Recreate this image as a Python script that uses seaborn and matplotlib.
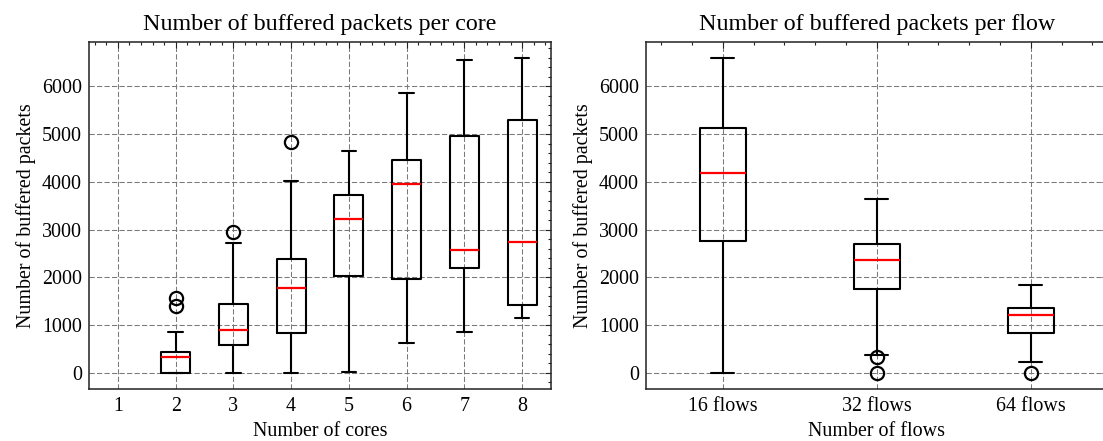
import numpy as np
import pandas as pd
import matplotlib
matplotlib.use("Agg")
import matplotlib.pyplot as plt
from matplotlib.ticker import AutoMinorLocator
import seaborn as sns

# ---------------- data ----------------
cores = [1, 2, 3, 4, 5, 6, 7, 8]
core_whislo = [None, 0, 0, 0, 20, 630, 845, 1140]
core_q1 = [None, 0, 580, 837, 2024, 1975, 2185, 1417]
core_median = [None, 330, 905, 1766, 3217, 3949, 2575, 2735]
core_q3 = [None, 440, 1438, 2380, 3726, 4466, 4968, 5289]
core_whishi = [None, 845, 2710, 4020, 4640, 5868, 6551, 6600]
core_outliers = [[], [1400, 1560], [2950], [4835], [], [], [], []]

flows = ["16 flows", "32 flows", "64 flows"]
flow_whislo = [0, 370, 217]
flow_q1 = [2771, 1758, 837]
flow_median = [4194, 2365, 1208]
flow_q3 = [5128, 2708, 1361]
flow_whishi = [6600, 3650, 1842]
flow_outliers = [[], [0, 320], [0]]


def samples(lo, q1, med, q3, hi, outl):
    """17 values whose quartiles/whiskers/fliers reproduce the read statistics."""
    if med is None:
        return []
    low_out = sorted(v for v in outl if v < q1)
    high_out = sorted(v for v in outl if v > q3)
    lower = low_out + [lo]
    lower = lower + [q1] * (8 - len(lower))
    upper = [hi] + high_out
    upper = [q3] * (8 - len(upper)) + upper
    return lower + [med] + upper


rows = []
for i, c in enumerate(cores):
    for v in samples(core_whislo[i], core_q1[i], core_median[i], core_q3[i],
                     core_whishi[i], core_outliers[i]):
        rows.append((str(c), v))
df_cores = pd.DataFrame(rows, columns=["cores", "packets"])

rows = []
for i, f in enumerate(flows):
    for v in samples(flow_whislo[i], flow_q1[i], flow_median[i], flow_q3[i],
                     flow_whishi[i], flow_outliers[i]):
        rows.append((f, v))
df_flows = pd.DataFrame(rows, columns=["flows", "packets"])

# ---------------- style ----------------
sns.set_theme(style="white")
plt.rcParams.update({
    "font.family": ["Liberation Serif", "DejaVu Serif"],
    "font.size": 14.4,
    "axes.titlesize": 17.3,
    "axes.labelsize": 14.4,
    "xtick.labelsize": 14.4,
    "ytick.labelsize": 14.4,
    "axes.edgecolor": "#222222",
    "axes.linewidth": 1.1,
    "text.color": "black",
    "axes.labelcolor": "black",
    "xtick.color": "#222222",
    "ytick.color": "#222222",
    "xtick.labelcolor": "black",
    "ytick.labelcolor": "black",
    "xtick.direction": "in",
    "ytick.direction": "in",
    "xtick.top": True,
    "ytick.right": True,
    "xtick.major.size": 4.5,
    "ytick.major.size": 4.5,
    "xtick.minor.size": 2.4,
    "ytick.minor.size": 2.4,
    "xtick.major.width": 0.8,
    "ytick.major.width": 0.8,
    "xtick.minor.width": 0.8,
    "ytick.minor.width": 0.8,
    "xtick.major.pad": 6,
    "ytick.major.pad": 5,
})

fig = plt.figure(figsize=(11.03, 4.41), dpi=100)
ax1 = fig.add_axes([89 / 1103, 52 / 441, 462 / 1103, 347 / 441])
ax2 = fig.add_axes([645.7 / 1103, 52 / 441, 462 / 1103, 347 / 441])

common = dict(
    fill=False, color="black", linewidth=1.5, whis=1.5,
    flierprops=dict(marker="o", markerfacecolor="none", markeredgecolor="black",
                    markersize=9.5, markeredgewidth=1.6),
    medianprops=dict(color="red", linewidth=1.6),
    boxprops=dict(color="black"),
    whiskerprops=dict(color="black"),
    capprops=dict(color="black"),
)

sns.boxplot(data=df_cores, x="cores", y="packets", order=[str(c) for c in cores],
            width=0.5, ax=ax1, **common)
sns.boxplot(data=df_flows, x="flows", y="packets", order=flows,
            width=0.3, ax=ax2, **common)

titles = ["Number of buffered packets per core", "Number of buffered packets per flow"]
xlabels = ["Number of cores", "Number of flows"]
for ax, t, xl, n in zip([ax1, ax2], titles, xlabels, [len(cores), len(flows)]):
    ax.set_title(t, pad=9)
    ax.set_xlabel(xl, labelpad=4)
    ax.set_ylabel("Number of buffered packets")
    ax.set_xlim(-0.5, n - 0.5)
    ax.set_ylim(-340, 6930)
    ax.set_yticks([0, 1000, 2000, 3000, 4000, 5000, 6000])
    ax.xaxis.set_minor_locator(AutoMinorLocator(5))
    ax.yaxis.set_minor_locator(AutoMinorLocator(5))
    ax.tick_params(which="both", direction="in", top=True, right=True)
    ax.grid(True, which="major", linestyle=(0, (5, 2.2)), color="#7a7a7a", linewidth=0.75)
    ax.set_axisbelow(True)
    for s in ax.spines.values():
        s.set_visible(True)

fig.savefig("out.png", dpi=100)
